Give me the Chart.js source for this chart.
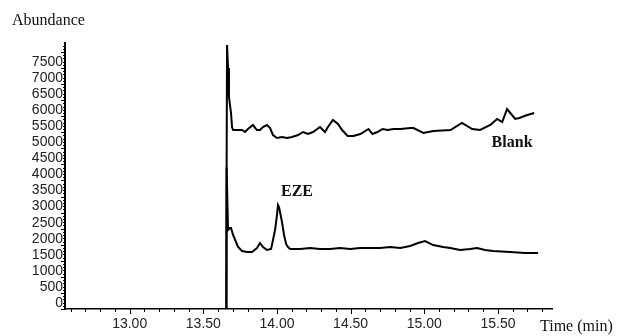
<!DOCTYPE html>
<html><head><meta charset="utf-8">
<script src="https://cdn.jsdelivr.net/npm/chart.js@4"></script>
<style>html,body{margin:0;padding:0;background:#fff}#wrap{width:618px;height:336px;position:relative}</style>
</head><body><div id="wrap"><canvas id="c" width="618" height="336"></canvas></div>
<script>
// ---- data ----
const blankTime = [13.655,13.661,13.668,13.674,13.688,13.695,13.702,13.729,13.763,13.783,13.803,13.837,13.864,13.885,13.905,13.932,13.953,13.973,14.000,14.034,14.068,14.102,14.143,14.177,14.211,14.245,14.292,14.326,14.346,14.380,14.414,14.442,14.480,14.519,14.566,14.621,14.648,14.682,14.717,14.751,14.790,14.838,14.906,14.927,14.994,15.062,15.178,15.256,15.325,15.379,15.448,15.495,15.529,15.562,15.617,15.645,15.699,15.746];
const blankAbundance = [0,8216,7500,6597,6100,5664,5570,5570,5570,5508,5602,5726,5570,5570,5664,5726,5633,5415,5322,5353,5322,5353,5415,5508,5446,5508,5664,5508,5664,5882,5757,5570,5384,5384,5446,5602,5446,5508,5602,5570,5602,5602,5633,5633,5477,5539,5570,5788,5602,5570,5726,5913,5819,6224,5913,5944,6037,6100];
const ezeTime = [13.655,13.658,13.668,13.681,13.688,13.702,13.722,13.736,13.763,13.797,13.831,13.864,13.885,13.905,13.932,13.960,13.973,13.987,14.000,14.007,14.014,14.034,14.048,14.062,14.075,14.089,14.157,14.225,14.292,14.360,14.428,14.497,14.564,14.632,14.700,14.768,14.838,14.904,14.958,15.005,15.060,15.128,15.176,15.243,15.311,15.358,15.413,15.467,15.582,15.684,15.773];
const ezeAbundance = [0,4400,2458,2521,2521,2303,2085,1929,1805,1774,1774,1898,2054,1929,1836,1867,2147,2458,2925,3236,3174,2707,2303,2023,1929,1867,1867,1898,1867,1867,1898,1867,1898,1898,1898,1929,1898,1960,2054,2116,1991,1929,1898,1836,1867,1898,1836,1805,1774,1743,1743];
const xTickLabels = ['13.00','13.50','14.00','14.50','15.00','15.50'];
const yTickLabels = ['0','500','1000','1500','2000','2500','3000','3500','4000','4500','5000','5500','6000','6500','7000','7500'];
const peakLabels = ['EZE','Blank'];
const peakLabelTime = [14.136,15.596];
const peakLabelAbundance = [3641,5166];

const X_MIN = 12.561, X_MAX = 15.867, Y_MIN = 0, Y_MAX = 8278;

const toPts = (t, v) => t.map((x, i) => ({x: x, y: v[i]}));

const tickPlugin = {
  id: 'ticksAndText',
  afterDraw(chart) {
    const ctx = chart.ctx;
    const xs = chart.scales.x, ys = chart.scales.y;
    const area = chart.chartArea;
    ctx.save();
    ctx.strokeStyle = '#000';
    ctx.lineWidth = 1;
    // x tick marks every 0.1 min
    for (let k = 126; k <= 158; k++) {
      const v = k / 10;
      const px = Math.round(xs.getPixelForValue(v)) + 0.5;
      const major = (k % 5 === 0);
      ctx.beginPath();
      ctx.moveTo(px, area.bottom);
      ctx.lineTo(px, area.bottom + (major ? 5 : 3));
      ctx.stroke();
    }
    // y tick marks every 100
    for (let k = 0; k <= 82; k++) {
      const v = k * 100;
      const py = Math.round(ys.getPixelForValue(v)) + 0.5;
      const major = (k % 5 === 0);
      ctx.beginPath();
      ctx.moveTo(area.left, py);
      ctx.lineTo(area.left - (major ? 4 : 2), py);
      ctx.stroke();
    }
    // titles
    ctx.fillStyle = '#111';
    ctx.font = '16px "Liberation Serif"';
    ctx.textBaseline = 'middle';
    ctx.textAlign = 'left';
    ctx.fillText('Abundance', 12, 21);
    ctx.fillText('Time (min)', 540, 327);
    // peak labels
    ctx.font = 'bold 16px "Liberation Serif"';
    ctx.textAlign = 'center';
    peakLabels.forEach((s, i) => {
      ctx.fillText(s, xs.getPixelForValue(peakLabelTime[i]), ys.getPixelForValue(peakLabelAbundance[i]));
    });
    ctx.restore();
  }
};

new Chart(document.getElementById('c'), {
  type: 'line',
  data: {
    datasets: [
      {label: 'Blank', data: toPts(blankTime, blankAbundance), borderColor: '#000', borderWidth: 2, pointRadius: 0, tension: 0, fill: false},
      {label: 'EZE', data: toPts(ezeTime, ezeAbundance), borderColor: '#000', borderWidth: 2, pointRadius: 0, tension: 0, fill: false}
    ]
  },
  options: {
    responsive: false,
    animation: false,
    devicePixelRatio: 1,
    layout: {padding: {left: 0, right: 66, top: 43, bottom: 0}},
    plugins: {legend: {display: false}, tooltip: {enabled: false}},
    scales: {
      x: {
        type: 'linear', min: X_MIN, max: X_MAX,
        afterFit(s) { s.height = 27; },
        afterBuildTicks(s) { s.ticks = xTickLabels.map(l => ({value: parseFloat(l)})); },
        ticks: {
          autoSkip: false, maxRotation: 0, padding: 7, color: '#222',
          font: {family: '"Liberation Sans"', size: 14},
          callback: (v) => { const l = xTickLabels.find(t => Math.abs(parseFloat(t) - v) < 1e-6); return l || ''; }
        },
        grid: {display: false, drawTicks: false},
        border: {display: true, color: '#000', width: 1.5}
      },
      y: {
        type: 'linear', min: Y_MIN, max: Y_MAX,
        afterFit(s) { s.width = 65; },
        afterBuildTicks(s) { s.ticks = yTickLabels.map(l => ({value: parseFloat(l)})); },
        ticks: {
          autoSkip: false, padding: 2, color: '#222', labelOffset: -6,
          font: {family: '"Liberation Sans"', size: 14},
          callback: (v) => { const l = yTickLabels.find(t => parseFloat(t) === v); return l || ''; }
        },
        grid: {display: false, drawTicks: false},
        border: {display: true, color: '#000', width: 2}
      }
    }
  },
  plugins: [tickPlugin]
});
</script>
</body></html>
